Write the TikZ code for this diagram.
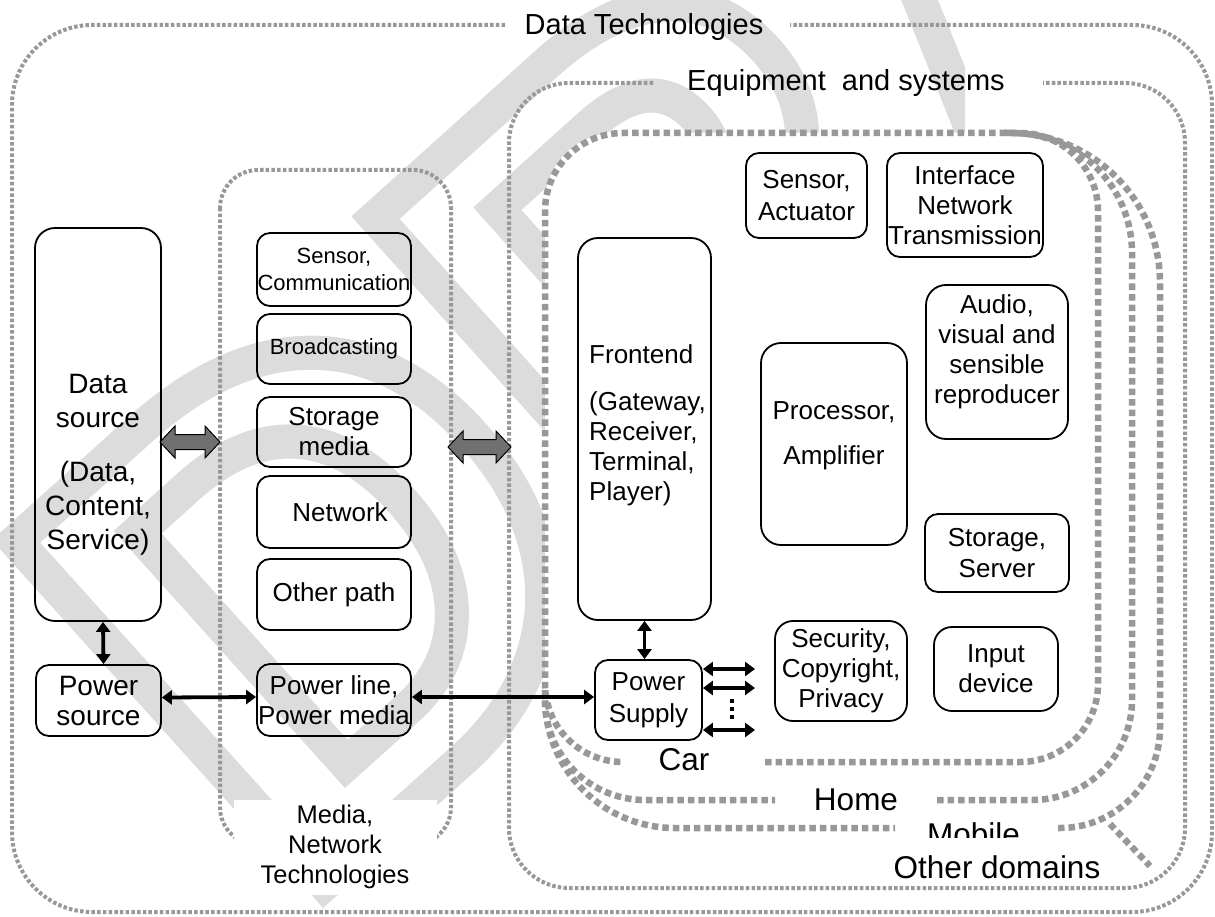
\documentclass[tikz,border=0pt]{standalone}
\usepackage{fontspec}
\setmainfont{Liberation Sans}
\usetikzlibrary{arrows.meta}
\definecolor{framegray}{RGB}{152,152,152}
\definecolor{wmgray}{RGB}{220,220,220}
\definecolor{blockgray}{RGB}{112,112,112}
\newcommand\blockarrow[3]{%
  \filldraw[fill=blockgray, draw=black, line width=1pt, line join=miter]
    (#1,#3) -- (#1+15,#3-16) -- (#1+15,#3-7.5) -- (#2-15,#3-7.5) -- (#2-15,#3-16)
    -- (#2,#3) -- (#2-15,#3+16) -- (#2-15,#3+7.5) -- (#1+15,#3+7.5) -- (#1+15,#3+16) -- cycle;}
\tikzset{
  lightframe/.style={draw=framegray, line width=4pt, dash pattern=on 3.5pt off 2.2pt},
  heavyframe/.style={draw=framegray, line width=6.5pt, dash pattern=on 6.5pt off 4pt},
  box/.style={draw=black, line width=1.8pt, rounded corners=13pt, inner sep=0pt, align=center},
  bigbox/.style={box, rounded corners=20pt},
  f22/.style={font=\fontsize{22}{27}\selectfont},
  f26/.style={font=\fontsize{26}{30}\selectfont},
  f28/.style={font=\fontsize{28}{34}\selectfont},
  ftitle/.style={font=\fontsize{29}{34}\selectfont},
  fdom/.style={font=\fontsize{31.5}{36}\selectfont},
  dbl/.style={line width=3.8pt, {Triangle[length=10pt,width=14pt]}-{Triangle[length=10pt,width=14pt]}},
}
\begin{document}
\begin{tikzpicture}[x=1pt, y=-1pt]
\useasboundingbox (0,0) rectangle (1215,917);
% watermark (outlined letters)
\begin{scope}
\clip (0,0) rectangle (965,917);
\node[rotate=42, anchor=base west, inner sep=0pt, text=wmgray,
      font=\fontsize{670}{670}\selectfont\bfseries] (wm) at (291,914)
      {\special{pdf:literal direct 1 Tr 34 w}DRAFT\special{pdf:literal direct 0 Tr}};
\end{scope}
% white ground of the domain frames
\fill[white, rounded corners=70pt] (545,133) rectangle (1160,828);
% frames
\draw[lightframe, rounded corners=80pt] (505,25) -- (12,25) -- (12,912) -- (1212,912) -- (1212,25) -- (790,25);
\node[ftitle, anchor=base] (dtT) at (644,35) {Data Technologies};
\draw[lightframe, rounded corners=60pt] (653,83) -- (509,83) -- (509,888) -- (1185,888) -- (1185,83) -- (1043,83);
\node[ftitle, anchor=base] (esT) at (846,91) {Equipment~ and systems};
\draw[lightframe, rounded corners=38pt] (220,170) rectangle (451,845);
% heavy frames: Car
\draw[heavyframe, rounded corners=78pt] (765,762) -- (1098,762) -- (1098,133) -- (545,133) -- (545,762) -- (623,762);
% Home
\draw[heavyframe, rounded corners=100pt] (937,800) -- (1132,800) -- (1132,500);
\draw[heavyframe, rounded corners=120pt] (1132,500) -- (1132,133) -- (1005,133);
\draw[heavyframe, rounded corners=100pt] (545,690) -- (545,800) -- (775,800);
% Mobile
\draw[heavyframe, rounded corners=100pt] (1058,828) -- (1160,828) -- (1160,500);
\draw[heavyframe, rounded corners=150pt] (1160,500) -- (1160,133) -- (1005,133);
\draw[heavyframe, rounded corners=130pt] (545,690) -- (545,828) -- (895,828);
% Other domains stub
\draw[heavyframe] (1110,824) -- (1150,866);
% media label covering frame bottom
\node[font=\fontsize{25.5}{30}\selectfont, align=center, fill=white, minimum width=203pt, minimum height=95pt, inner sep=0pt] (mnT) at (335,847) {Media,\\Network\\Technologies};
% left column
\node[bigbox, minimum width=126pt, minimum height=393pt] (ds) at (98,424.5) {};
\node[f28, align=center, inner sep=0pt] (dsT) at (98,465) {Data\\source\\[20pt](Data,\\Content,\\Service)};
\node[box, font=\fontsize{28}{30}\selectfont, minimum width=125pt, minimum height=71pt] (ps) at (98.5,700.5) {Power\\source};
% media column
\node[box, f22, minimum width=154pt, minimum height=73pt] (sc) at (334,269.5) {Sensor,\\Communication};
\node[box, f22, minimum width=154pt, minimum height=70pt] (bc) at (334,349) {Broadcasting};
\node[box, f26, minimum width=154pt, minimum height=70pt] (sm) at (334,432) {Storage\\media};
\node[box, f26, minimum width=154pt, minimum height=72pt] (nw) at (334,512) {\hspace{12pt}Network};
\node[box, f26, minimum width=154pt, minimum height=71pt] (op) at (334,594.5) {Other path};
\node[box, f26, minimum width=154pt, minimum height=72pt] (pl) at (334,700) {Power line,\\Power media};
% equipment
\node[bigbox, minimum width=133pt, minimum height=382pt] (fe) at (644.5,429) {};
\node[f26, align=left, anchor=north west, inner sep=0pt] (feT) at (589,344) {Frontend\\[17pt](Gateway,\\Receiver,\\Terminal,\\Player)};
\node[box, font=\fontsize{26}{32}\selectfont, minimum width=107pt, minimum height=80pt] (psup) at (648.5,700) {Power\\Supply};
\node[box, font=\fontsize{26}{32}\selectfont, minimum width=121pt, minimum height=85pt] (sa) at (806.5,195.5) {Sensor,\\Actuator};
\node[box, f26, minimum width=156pt, minimum height=104pt] (inf) at (965,205) {Interface\\Network\\Transmission};
\node[bigbox, minimum width=142pt, minimum height=154pt] (av) at (997,362) {};
\node[f26, align=center, inner sep=0pt] (avT) at (997,352) {Audio,\\visual and\\sensible\\reproducer};
\node[bigbox, minimum width=146pt, minimum height=202pt] (pr) at (834,444) {};
\node[f26, align=center, inner sep=0pt] (prT) at (834,435.5) {Processor,\\[15pt]Amplifier};
\node[box, font=\fontsize{26}{31}\selectfont, minimum width=144pt, minimum height=78pt] (ss) at (997,553) {Storage,\\Server};
\node[box, f26, minimum width=132pt, minimum height=100pt, rounded corners=18pt] (sec) at (841,671) {Security,\\Copyright,\\Privacy};
\node[box, f26, minimum width=124pt, minimum height=84pt, rounded corners=18pt] (inp) at (996,669) {Input\\device};
% connectors
\draw[dbl] ([xshift=5pt]ds.south) -- ([xshift=5pt]ps.north);
\draw[dbl] ([yshift=3pt]ps.east) -- ([yshift=3pt]pl.west);
\draw[dbl] ([yshift=3pt]pl.east) -- ([yshift=3pt]psup.west);
\draw[dbl] (fe.south) -- (fe.south |- psup.north);
\coordinate (r1) at (755,669);
\coordinate (r2) at (755,688);
\coordinate (r3) at (755,730);
\draw[dbl] (psup.east |- r1) -- (r1);
\draw[dbl] (psup.east |- r2) -- (r2);
\draw[dbl] (psup.east |- r3) -- (r3);
\draw[line width=4pt, dash pattern=on 4pt off 4pt] (732,699) -- (732,722);
\blockarrow{160}{220}{442}
\blockarrow{448}{511}{447}
% domain labels
\node[fdom] (carT) at (684,760) {Car};
\node[fdom] (homeT) at (856,800) {Home};
\node[fdom, anchor=base] (mobT) at (973.5,845) {Mobile};
\node[fdom, fill=white, anchor=base, inner xsep=3pt, inner ysep=0pt, text height=40pt, text depth=5pt] (odT) at (997,878) {Other domains};
\end{tikzpicture}
\end{document}
